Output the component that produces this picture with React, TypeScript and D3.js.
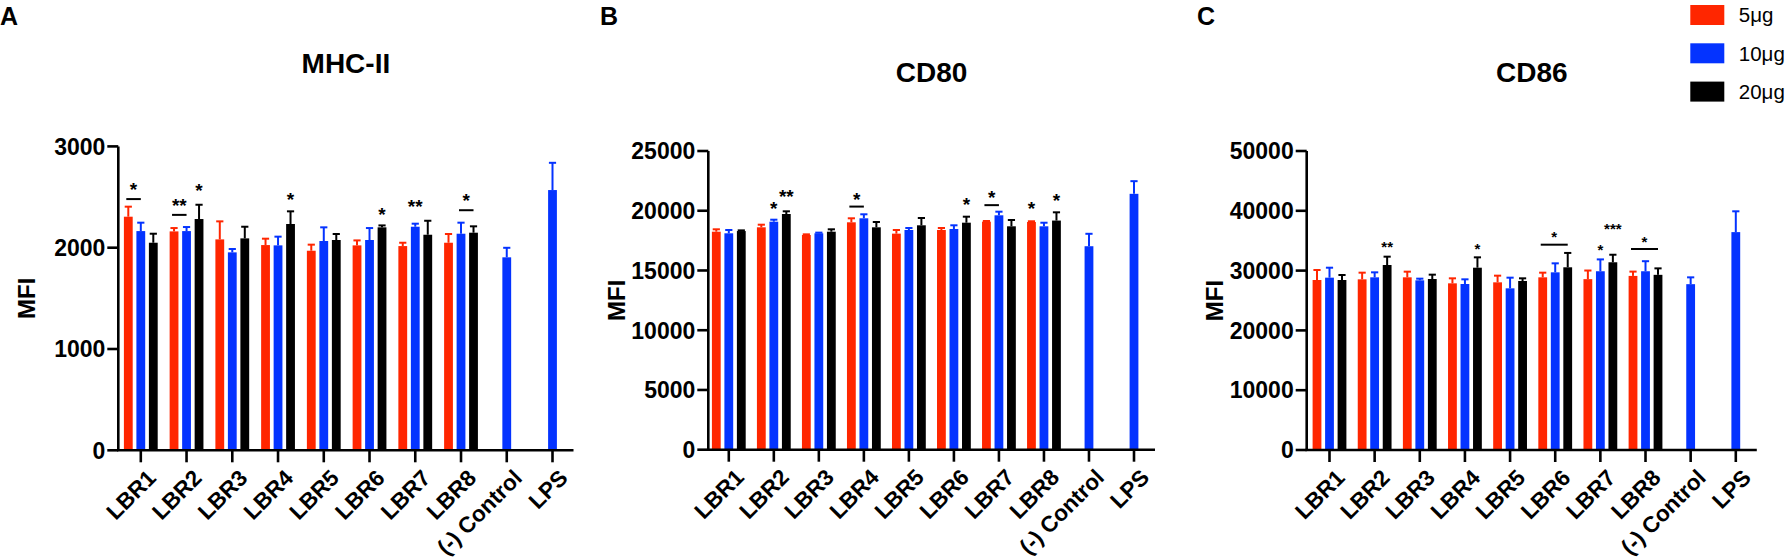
import * as d3 from 'd3';

// categories and doses
const CATEGORIES = ['LBR1', 'LBR2', 'LBR3', 'LBR4', 'LBR5', 'LBR6', 'LBR7', 'LBR8', '(-) Control', 'LPS'];
const TREATED = CATEGORIES.slice(0, 8);
const DOSES = ['5μg', '10μg', '20μg'];
const DOSE_COLORS = ['#FF2600', '#0433FF', '#000000'];

// MHC-II (mean, SEM)
const MHC_5 = [2306, 2161, 2082, 2026, 1970, 2023, 2016, 2049];
const MHC_5_ERR = [99, 33, 178, 63, 60, 49, 33, 86];
const MHC_10 = [2164, 2164, 1954, 2023, 2066, 2076, 2207, 2138];
const MHC_10_ERR = [83, 40, 33, 86, 135, 118, 30, 109];
const MHC_20 = [2049, 2283, 2092, 2234, 2076, 2201, 2128, 2148];
const MHC_20_ERR = [89, 141, 115, 125, 59, 19, 138, 63];
const MHC_CONTROLS = [1905, 2569];
const MHC_CONTROLS_ERR = [94, 269];
const MHC_TICKS = [0, 1000, 2000, 3000];

// CD80
const CD80_5 = [18246, 18613, 17970, 19032, 18083, 18390, 19083, 19058];
const CD80_5_ERR = [200, 219, 55, 335, 307, 166, 56, 60];
const CD80_10 = [18111, 19083, 18111, 19367, 18390, 18473, 19618, 18697];
const CD80_10_ERR = [279, 167, 56, 335, 166, 308, 303, 300];
const CD80_20 = [18301, 19727, 18246, 18613, 18781, 19000, 18697, 19178];
const CD80_20_ERR = [56, 225, 200, 445, 612, 502, 528, 690];
const CD80_CONTROLS = [17030, 21415];
const CD80_CONTROLS_ERR = [1040, 1060];
const CD80_TICKS = [0, 5000, 10000, 15000, 20000, 25000];

// CD86
const CD86_5 = [28428, 28540, 28874, 27871, 28038, 28874, 28571, 29112];
const CD86_5_ERR = [1672, 1114, 948, 836, 1115, 780, 1441, 720];
const CD86_10 = [28818, 28874, 28373, 27759, 27035, 29710, 29892, 29892];
const CD86_10_ERR = [1667, 836, 278, 781, 1783, 1505, 1981, 1681];
const CD86_20 = [28428, 30936, 28595, 30485, 28262, 30552, 31393, 29292];
const CD86_20_ERR = [836, 1394, 725, 1733, 445, 2401, 1260, 1080];
const CD86_CONTROLS = [27731, 36435];
const CD86_CONTROLS_ERR = [1141, 3481];
const CD86_TICKS = [0, 10000, 20000, 30000, 40000, 50000];

// significance marks: bars = dose indexes (two = bracket line), y = level in MFI
type Sig = { cat: string; bars: number[]; text: string; y: number };
const MHC_SIG: Sig[] = [
  { cat: 'LBR1', bars: [0, 1], text: '*', y: 2480 },
  { cat: 'LBR2', bars: [0, 1], text: '**', y: 2324 },
  { cat: 'LBR2', bars: [2], text: '*', y: 2604 },
  { cat: 'LBR4', bars: [2], text: '*', y: 2519 },
  { cat: 'LBR6', bars: [2], text: '*', y: 2370 },
  { cat: 'LBR7', bars: [1], text: '**', y: 2445 },
  { cat: 'LBR8', bars: [1, 2], text: '*', y: 2370 },
];
const CD80_SIG: Sig[] = [
  { cat: 'LBR2', bars: [1], text: '*', y: 20588 },
  { cat: 'LBR2', bars: [2], text: '**', y: 21549 },
  { cat: 'LBR4', bars: [0, 1], text: '*', y: 20348 },
  { cat: 'LBR6', bars: [2], text: '*', y: 20858 },
  { cat: 'LBR7', bars: [0, 1], text: '*', y: 20468 },
  { cat: 'LBR8', bars: [0], text: '*', y: 20558 },
  { cat: 'LBR8', bars: [2], text: '*', y: 21249 },
];
const CD86_SIG: Sig[] = [
  { cat: 'LBR2', bars: [2], text: '**', y: 34514 },
  { cat: 'LBR4', bars: [2], text: '*', y: 34214 },
  { cat: 'LBR6', bars: [0, 2], text: '*', y: 34334 },
  { cat: 'LBR7', bars: [1], text: '*', y: 33974 },
  { cat: 'LBR7', bars: [2], text: '***', y: 37575 },
  { cat: 'LBR8', bars: [0, 2], text: '*', y: 33613 },
];

const FONT = '"Liberation Sans", Arial, Helvetica, sans-serif';
const BAR_W = 8.8;
const BAR_OFFSET = 12.5;

interface PanelSpec {
  letter: string;
  letterX: number;
  title: string;
  titleY: number;
  axisX: number;
  first: number;
  last: number;
  top: number;
  bottom: number;
  ticks: number[];
  series: number[][];
  errors: number[][];
  controls: number[];
  controlsErr: number[];
  sig: Sig[];
  starSize: number;
  starGap: number;
}

const PANELS: PanelSpec[] = [
  {
    letter: 'A', letterX: 0, title: 'MHC-II', titleY: 73,
    axisX: 118.3, first: 140.8, last: 552.5, top: 146.4, bottom: 450.3,
    ticks: MHC_TICKS,
    series: [MHC_5, MHC_10, MHC_20], errors: [MHC_5_ERR, MHC_10_ERR, MHC_20_ERR],
    controls: MHC_CONTROLS, controlsErr: MHC_CONTROLS_ERR, sig: MHC_SIG,
    starSize: 19, starGap: 14,
  },
  {
    letter: 'B', letterX: 600, title: 'CD80', titleY: 81.5,
    axisX: 708.3, first: 728.8, last: 1134, top: 151, bottom: 449.7,
    ticks: CD80_TICKS,
    series: [CD80_5, CD80_10, CD80_20], errors: [CD80_5_ERR, CD80_10_ERR, CD80_20_ERR],
    controls: CD80_CONTROLS, controlsErr: CD80_CONTROLS_ERR, sig: CD80_SIG,
    starSize: 19, starGap: 11.5,
  },
  {
    letter: 'C', letterX: 1197, title: 'CD86', titleY: 81.5,
    axisX: 1306.7, first: 1329.5, last: 1735.8, top: 151, bottom: 450,
    ticks: CD86_TICKS,
    series: [CD86_5, CD86_10, CD86_20], errors: [CD86_5_ERR, CD86_10_ERR, CD86_20_ERR],
    controls: CD86_CONTROLS, controlsErr: CD86_CONTROLS_ERR, sig: CD86_SIG,
    starSize: 15, starGap: 11,
  },
];

function Bar({ cx, y, v, e, color }: { cx: number; y: d3.ScaleLinear<number, number>; v: number; e: number; color: string }) {
  const top = y(v);
  const errTop = y(v + e);
  return (
    <g>
      <rect x={cx - BAR_W / 2} y={top} width={BAR_W} height={y(0) - top} fill={color} />
      <line x1={cx} x2={cx} y1={top} y2={errTop} stroke={color} strokeWidth={2} />
      <line x1={cx - 3.6} x2={cx + 3.6} y1={errTop} y2={errTop} stroke={color} strokeWidth={2} />
    </g>
  );
}

function Panel({ p }: { p: PanelSpec }) {
  const x = d3.scalePoint<string>().domain(CATEGORIES).range([p.first, p.last]);
  const max = p.ticks[p.ticks.length - 1];
  const y = d3.scaleLinear().domain([0, max]).range([p.bottom, p.top]);
  const xEnd = p.last + 21;
  const barX = (cat: string, i: number) => (x(cat) ?? 0) + (i - 1) * BAR_OFFSET;
  const midY = (p.top + p.bottom) / 2;

  return (
    <g fontFamily={FONT} fontWeight="bold">
      <text x={p.letterX} y={25} fontSize={25}>{p.letter}</text>
      <text x={(p.axisX + xEnd) / 2} y={p.titleY} fontSize={28} textAnchor="middle">{p.title}</text>

      {TREATED.map((cat, ci) =>
        p.series.map((s, si) => (
          <Bar key={`${cat}-${si}`} cx={barX(cat, si)} y={y} v={s[ci]} e={p.errors[si][ci]} color={DOSE_COLORS[si]} />
        )),
      )}
      {CATEGORIES.slice(8).map((cat, i) => (
        <Bar key={cat} cx={x(cat) ?? 0} y={y} v={p.controls[i]} e={p.controlsErr[i]} color={DOSE_COLORS[1]} />
      ))}

      {p.sig.map((s, i) => {
        const xs = s.bars.map((b) => barX(s.cat, b));
        const ly = y(s.y);
        if (xs.length === 2) {
          const x1 = xs[0] - 2;
          const x2 = xs[1];
          const sy = ly - p.starGap;
          return (
            <g key={i}>
              <line x1={x1} x2={x2} y1={ly} y2={ly} stroke="#000" strokeWidth={2} />
              <text x={(x1 + x2) / 2} y={sy + p.starSize * 0.57} fontSize={p.starSize} textAnchor="middle">{s.text}</text>
            </g>
          );
        }
        return (
          <text key={i} x={xs[0]} y={ly + p.starSize * 0.57} fontSize={p.starSize} textAnchor="middle">{s.text}</text>
        );
      })}

      {/* y axis */}
      <line x1={p.axisX} x2={p.axisX} y1={y(0)} y2={y(max)} stroke="#000" strokeWidth={2.6} />
      {p.ticks.map((t) => (
        <g key={t}>
          <line x1={p.axisX - 11} x2={p.axisX} y1={y(t)} y2={y(t)} stroke="#000" strokeWidth={2.6} />
          <text x={p.axisX - 13} y={y(t)} dy="0.36em" fontSize={23} textAnchor="end">{t}</text>
        </g>
      ))}
      <text transform={`translate(${p.axisX - 92},${midY}) rotate(-90)`} fontSize={24} textAnchor="middle" dy="0.36em">MFI</text>

      {/* x axis */}
      <line x1={p.axisX - 1.3} x2={xEnd} y1={y(0)} y2={y(0)} stroke="#000" strokeWidth={2.6} />
      {CATEGORIES.map((cat) => (
        <g key={cat}>
          <line x1={x(cat)} x2={x(cat)} y1={y(0)} y2={y(0) + 12} stroke="#000" strokeWidth={2.6} />
          <text
            transform={`translate(${(x(cat) ?? 0) + 11},${y(0) + 23.5}) rotate(-45)`}
            fontSize={22.5}
            textAnchor="end"
            dy="0.35em"
          >
            {cat}
          </text>
        </g>
      ))}
    </g>
  );
}

function Legend() {
  return (
    <g fontFamily={FONT}>
      {DOSES.map((d, i) => (
        <g key={d} transform={`translate(1690.3,${5 + i * 38.3})`}>
          <rect width={34} height={20} fill={DOSE_COLORS[i]} />
          <text x={48.5} y={10} dy="0.36em" fontSize={20.5}>{d}</text>
        </g>
      ))}
    </g>
  );
}

export default function App() {
  return (
    <svg
      width={1788}
      height={560}
      viewBox="0 0 1788 560"
      style={{ position: 'absolute', left: 0, top: 0, background: '#fff' }}
    >
      <rect width={1788} height={560} fill="#fff" />
      {PANELS.map((p) => (
        <Panel key={p.letter} p={p} />
      ))}
      <Legend />
    </svg>
  );
}
